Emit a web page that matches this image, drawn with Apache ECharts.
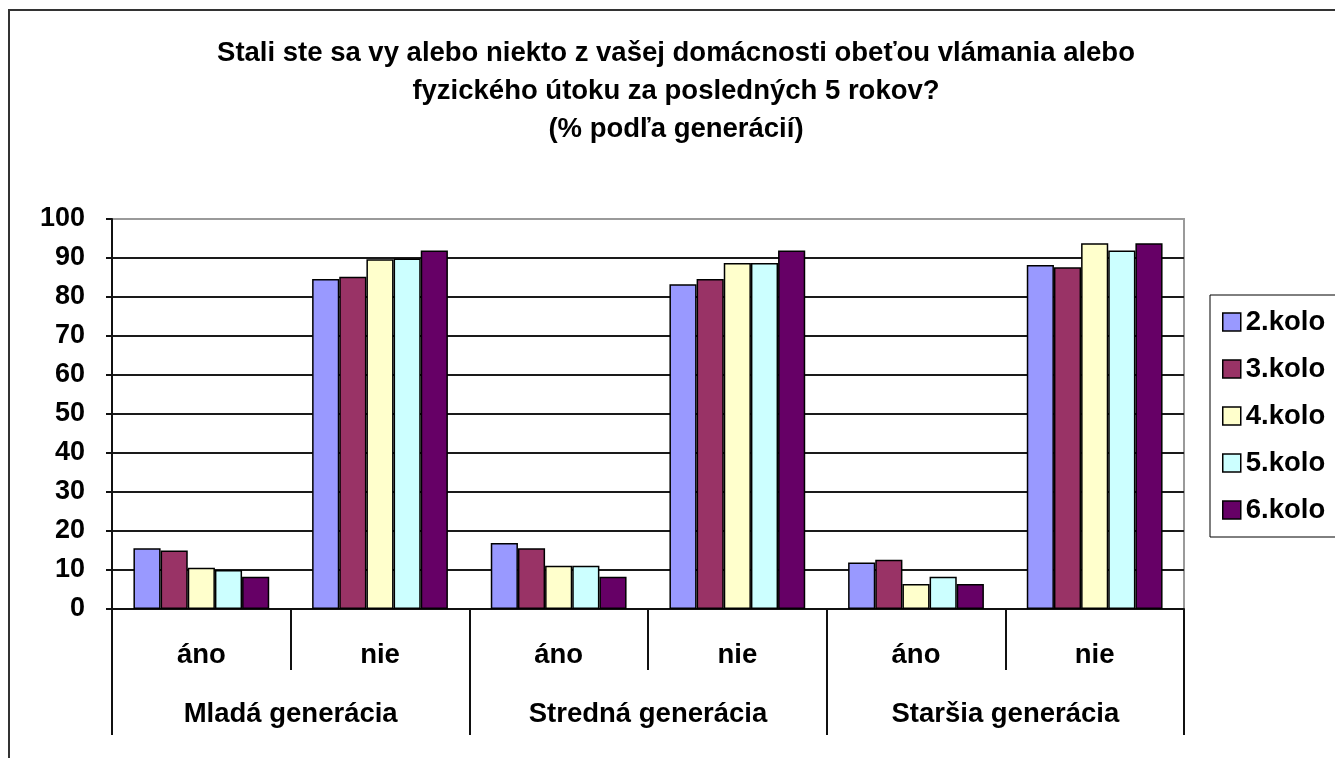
<!DOCTYPE html>
<html>
<head>
<meta charset="utf-8">
<script src="https://cdn.jsdelivr.net/npm/echarts@6/dist/echarts.min.js"></script>
<style>html,body{margin:0;padding:0;background:#fff}#c{width:1335px;height:758px}</style>
</head>
<body>
<div id="c"></div>
<script>
const titleLines = [
  'Stali ste sa vy alebo niekto z vašej domácnosti obeťou vlámania alebo',
  'fyzického útoku za posledných 5 rokov?',
  '(% podľa generácií)'
];
const answers = ['áno', 'nie', 'áno', 'nie', 'áno', 'nie'];
const generations = ['Mladá generácia', 'Stredná generácia', 'Staršia generácia'];
const seriesNames = ['2.kolo', '3.kolo', '4.kolo', '5.kolo', '6.kolo'];
const seriesColors = ['#9999FF', '#993366', '#FFFFCC', '#CCFFFF', '#660066'];
const kolo2 = [15.6, 84.6, 16.9, 83.3, 11.9, 88.2];
const kolo3 = [15.0, 85.2, 15.6, 84.6, 12.6, 87.6];
const kolo4 = [10.6, 89.7, 11.1, 88.7, 6.4, 93.8];
const kolo5 = [10.0, 89.9, 11.1, 88.7, 8.3, 91.9];
const kolo6 = [8.3, 91.9, 8.3, 91.9, 6.4, 93.8];
const seriesData = [kolo2, kolo3, kolo4, kolo5, kolo6];
const yTicks = { min: 0, max: 100, interval: 10 };

const FONT = '"Liberation Sans", Arial, sans-serif';
const chart = echarts.init(document.getElementById('c'), null, { renderer: 'canvas' });
chart.setOption({
  animation: false,
  backgroundColor: '#fff',
  textStyle: { fontFamily: FONT },
  title: {
    text: titleLines.join('\n'),
    left: 676,
    top: 34,
    textAlign: 'center',
    padding: 0,
    textStyle: { fontFamily: FONT, fontSize: 27.5, fontWeight: 'bold', color: '#000', lineHeight: 38 }
  },
  graphic: [{
    type: 'rect',
    shape: { x: 9, y: 10, width: 1340, height: 760 },
    style: { fill: 'none', stroke: '#333', lineWidth: 2 },
    silent: true, z: -1
  }],
  legend: {
    orient: 'vertical',
    left: 1210,
    top: 295,
    padding: [12, 12, 12, 12],
    itemWidth: 18,
    itemHeight: 18,
    itemGap: 17,
    icon: 'rect',
    borderColor: '#000',
    borderWidth: 1,
    backgroundColor: '#fff',
    itemStyle: { borderColor: '#000', borderWidth: 1.5 },
    textStyle: { fontFamily: FONT, fontSize: 27.5, fontWeight: 'bold', color: '#000', lineHeight: 30 },
    data: seriesNames
  },
  grid: {
    left: 112, right: 151, top: 219, bottom: 149,
    show: true, borderColor: '#9a9a9a', borderWidth: 2, backgroundColor: 'transparent',
    containLabel: false
  },
  xAxis: [{
    type: 'category',
    data: answers,
    position: 'bottom',
    axisLine: { show: true, lineStyle: { color: '#111', width: 2 } },
    axisTick: { show: true, interval: 0, length: 61, lineStyle: { color: '#111', width: 2 } },
    axisLabel: { interval: 0, margin: 32, fontFamily: FONT, fontSize: 27.5, fontWeight: 'bold', color: '#000' }
  }, {
    type: 'category',
    data: generations,
    position: 'bottom',
    gridIndex: 0,
    axisLine: { show: false },
    axisTick: { show: true, interval: 0, length: 126, lineStyle: { color: '#111', width: 2 } },
    axisLabel: { interval: 0, margin: 91, fontFamily: FONT, fontSize: 27.5, fontWeight: 'bold', color: '#000' }
  }],
  yAxis: {
    type: 'value',
    min: yTicks.min, max: yTicks.max, interval: yTicks.interval,
    axisLine: { show: true, lineStyle: { color: '#111', width: 2 } },
    axisTick: { show: true, length: 6, lineStyle: { color: '#111', width: 2 } },
    axisLabel: { margin: 27, fontFamily: FONT, fontSize: 27, fontWeight: 'bold', color: '#000' },
    splitLine: { show: true, showMaxLine: false, lineStyle: { color: '#1a1a1a', width: 2 } }
  },
  series: seriesNames.map((name, i) => ({
    name: name,
    type: 'bar',
    xAxisIndex: 0,
    data: seriesData[i],
    barGap: '0%',
    barCategoryGap: '24%',
    itemStyle: { color: seriesColors[i], borderColor: '#000', borderWidth: 1.5 }
  }))
});
</script>
</body>
</html>
